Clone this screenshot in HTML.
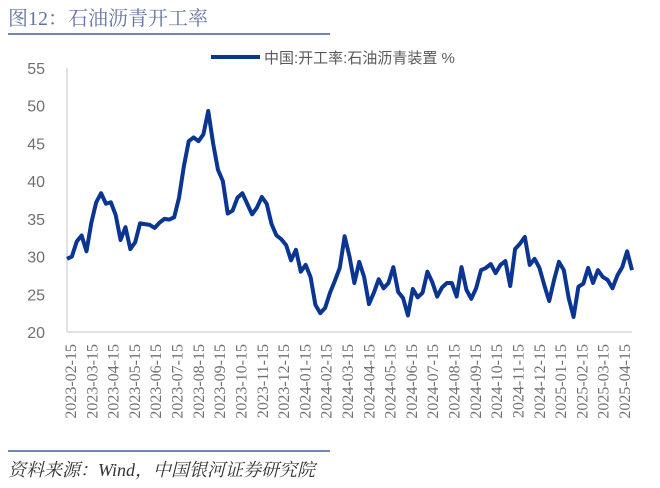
<!DOCTYPE html>
<html><head><meta charset="utf-8"><style>
body{margin:0;background:#fff;width:660px;height:488px;overflow:hidden;position:relative}
.t{position:absolute;left:8px;top:2px;font:20px "Liberation Serif","Noto Serif CJK SC",serif;color:#6573a0}
.src{position:absolute;left:8px;top:456px;font:italic 18px "Liberation Serif","Noto Serif CJK SC",serif;color:#333}
</style></head><body>
<div class="t">图12：石油沥青开工率</div>
<div style="position:absolute;left:8px;top:33px;width:322px;height:2px;background:#7484b4"></div>
<div style="position:absolute;left:8px;top:450px;width:322px;height:2px;background:#7484b4"></div>
<div class="src">资料来源：Wind，中国银河证券研究院</div>
<svg id="c" width="660" height="488" style="position:absolute;left:0;top:0"></svg>
<script>
const values=[29.7,30,32,32.8,30.7,34.5,37.2,38.4,37,37.2,35.5,32.2,33.9,31,31.9,34.4,34.3,34.2,33.8,34.5,35,34.9,35.2,37.8,42,45.3,45.8,45.3,46.2,49.3,45,41.5,40,35.7,36.1,37.8,38.4,37,35.6,36.5,37.9,37,34.3,32.8,32.3,31.5,29.5,
30.9,28,28.9,27.3,23.6,22.5,23.2,25.2,26.8,28.5,32.7,30,26.5,29.3,27.3,23.7,25.2,27,25.8,26.5,28.6,25.3,24.5,22.2,25.7,24.6,25.2,28,26.6,24.7,25.9,26.5,26.5,24.7,28.6,25.6,24.4,25.8,28.2,28.5,29,27.8,28.9,29.4,26.1,31,31.7,32.6,28.9,29.7,28.5,26.2,24.1,26.9,29.3,28.2,24.5,22,26,26.4,28.5,26.5,28.2,27.3,26.9,25.8,27.5,28.6,30.7,28.2];
const yTicks=[20,25,30,35,40,45,50,55];
const xLabels=["2023-02-15","2023-03-15","2023-04-15","2023-05-15","2023-06-15","2023-07-15","2023-08-15","2023-09-15","2023-10-15","2023-11-15","2023-12-15","2024-01-15","2024-02-15","2024-03-15","2024-04-15","2024-05-15","2024-06-15","2024-07-15","2024-08-15","2024-09-15","2024-10-15","2024-11-15","2024-12-15","2025-01-15","2025-02-15","2025-03-15","2025-04-15"];
const svg=document.getElementById('c'),NS='http://www.w3.org/2000/svg';
const X0=67,X1=632,Y0=332,Y1=68;
const y=v=>Y0-(v-20)/(55-20)*(Y0-Y1);
const x=i=>X0+i*(X1-X0)/(values.length-1);
const lx=i=>70+i*(624-70)/(xLabels.length-1);
function mk(t,a){const e=document.createElementNS(NS,t);for(const k in a)e.setAttribute(k,a[k]);svg.appendChild(e);return e;}
let e=mk('line',{x1:X0,y1:Y1,x2:X0,y2:Y0,stroke:'#d9d9d9','stroke-width':1.5});


e=mk('line',{x1:X0,y1:Y0,x2:X1,y2:Y0,stroke:'#d9d9d9','stroke-width':1.5});


yTicks.forEach(v=>{const t=mk('text',{x:45,y:y(v)+6,'text-anchor':'end','font-size':16,fill:'#707070','font-family':'Liberation Sans, sans-serif'});t.textContent=v;

});
xLabels.forEach((s,i)=>{const t=mk('text',{transform:`translate(${lx(i)+6},344) rotate(-90)`,'text-anchor':'end','font-size':16,fill:'#707070','font-family':'Liberation Serif, serif'});t.textContent=s;

});
const p=mk('polyline',{points:values.map((v,i)=>x(i)+','+y(v)).join(' '),fill:'none',stroke:'#0a3590','stroke-width':4,'stroke-linejoin':'round'});


const ll=mk('line',{x1:211,y1:57,x2:260,y2:57,stroke:'#0a3590','stroke-width':4});


const lt=mk('text',{x:264,y:63,'font-size':15,fill:'#595959','font-family':'Liberation Sans, Noto Sans CJK SC, sans-serif'});lt.textContent='中国:开工率:石油沥青装置 %';


</script>
</body></html>
